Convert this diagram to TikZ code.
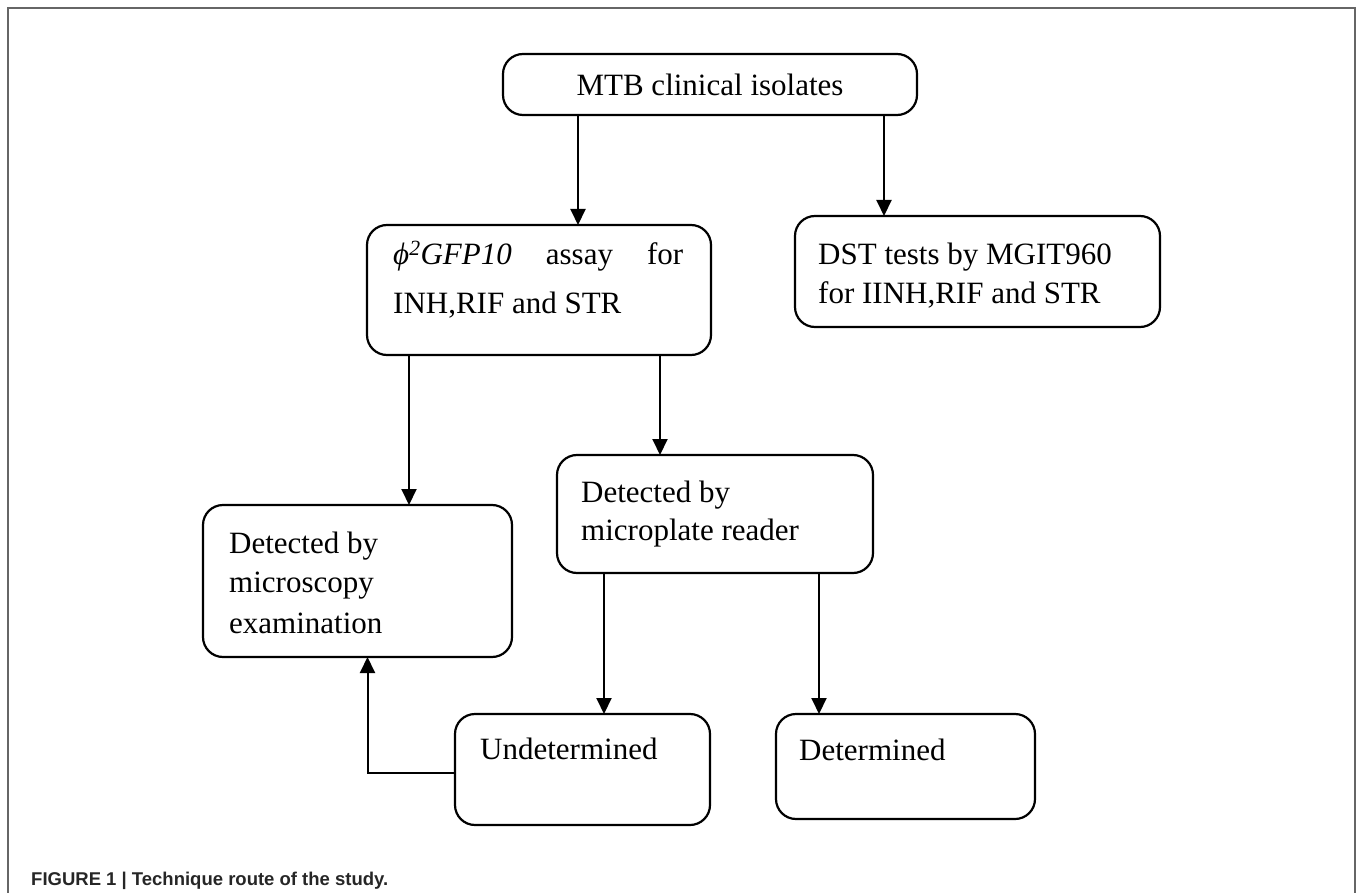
\documentclass[tikz,border=0pt]{standalone}
\usepackage{fontspec}
\setmainfont{Liberation Serif}
\newfontfamily\capfont{Liberation Sans}
\usetikzlibrary{arrows.meta}

\begin{document}
\begin{tikzpicture}[x=1pt,y=-1pt,
	box/.style={draw,rounded corners=20pt,line width=2.2pt,inner sep=0,outer sep=0},
	txt/.style={anchor=base west,inner sep=0,font=\fontsize{31}{39}\selectfont},
	arr/.style={line width=2pt,-{Triangle[width=15pt,length=16pt]}}]
	\useasboundingbox (0,0) rectangle (1357,893);
	\draw[black!60,line width=2pt] (8,893) -- (8,8) -- (1355,8) -- (1355,893);
	\node[box,minimum width=414pt,minimum height=61pt,font=\fontsize{31}{39}\selectfont] (mtb) at (710,84.5) {MTB clinical isolates};
	\node[box,minimum width=344pt,minimum height=130pt] (gfp) at (539,290) {};
	\node[box,minimum width=365pt,minimum height=111pt] (dst) at (977.5,271.5) {};
	\node[box,minimum width=316pt,minimum height=118pt] (plate) at (715,514) {};
	\node[box,minimum width=309pt,minimum height=152pt] (scope) at (357.5,581) {};
	\node[box,minimum width=255pt,minimum height=111pt] (undet) at (582.5,769.5) {};
	\node[box,minimum width=259pt,minimum height=105pt] (det) at (905.5,766.5) {};
	% box texts
	\node[txt] (gfp1) at (393,265) {\hbox to 290pt{{\itshape ϕ\textsuperscript{2}GFP10}\hfil assay\hfil for}};
	\node[txt] (gfp2) at (393,313) {INH,RIF and STR};
	\node[txt] (dst1) at (818,265) {DST tests by MGIT960};
	\node[txt] (dst2) at (818,303) {for IINH,RIF and STR};
	\node[txt] (plate1) at (581,502) {Detected by};
	\node[txt] (plate2) at (581,540) {microplate reader};
	\node[txt] (scope1) at (229,553) {Detected by};
	\node[txt] (scope2) at (229,592) {microscopy};
	\node[txt] (scope3) at (229,633) {examination};
	\node[txt] (undet1) at (480,759) {Undetermined};
	\node[txt] (det1) at (799,760) {Determined};
	% arrows
	\draw[arr] ([xshift=-132pt]mtb.south) -- ([xshift=-132pt]mtb.south |- gfp.north);
	\draw[arr] ([xshift=174pt]mtb.south) -- ([xshift=174pt]mtb.south |- dst.north);
	\draw[arr] ([xshift=-130pt]gfp.south) -- ([xshift=-130pt]gfp.south |- scope.north);
	\draw[arr] ([xshift=121pt]gfp.south) -- ([xshift=121pt]gfp.south |- plate.north);
	\draw[arr] ([xshift=-111pt]plate.south) -- ([xshift=-111pt]plate.south |- undet.north);
	\draw[arr] ([xshift=104pt]plate.south) -- ([xshift=104pt]plate.south |- det.north);
	\draw[arr] ([yshift=-3pt]undet.west) -| ([xshift=10pt]scope.south);
	\node[anchor=base west,inner sep=0,text=black!85,font=\capfont\bfseries\fontsize{18.5}{22}\selectfont] (cap) at (31,885) {FIGURE 1 | Technique route of the study.};
\end{tikzpicture}
\end{document}
